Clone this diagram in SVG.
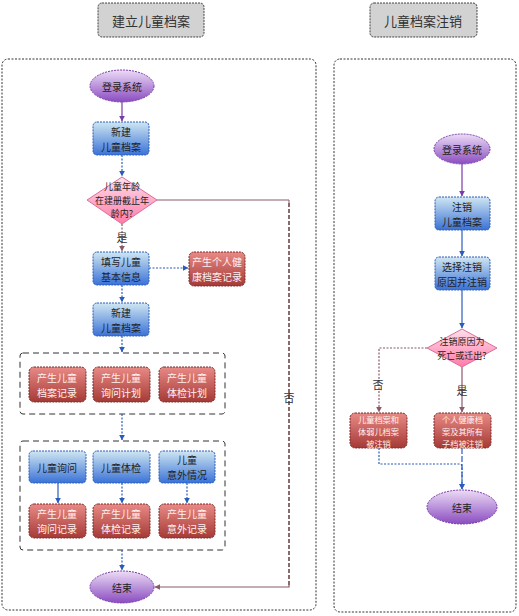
<svg xmlns="http://www.w3.org/2000/svg" width="519" height="616" viewBox="0 0 519 616">
<defs>
<linearGradient id="gP" x1="0" y1="0" x2="0" y2="1"><stop offset="0" stop-color="#ecdcf6"/><stop offset="1" stop-color="#8a4cc0"/></linearGradient>
<linearGradient id="gB" x1="0" y1="0" x2="0" y2="1"><stop offset="0" stop-color="#cfe6f2"/><stop offset="1" stop-color="#3a72d6"/></linearGradient>
<linearGradient id="gD" x1="0" y1="0" x2="0" y2="1"><stop offset="0" stop-color="#ffe0ec"/><stop offset="1" stop-color="#ff7aa8"/></linearGradient>
<linearGradient id="gR" x1="0" y1="0" x2="0" y2="1"><stop offset="0" stop-color="#e88a86"/><stop offset="1" stop-color="#a53a36"/></linearGradient>
<marker id="aB" viewBox="0 0 10 10" refX="9" refY="5" markerWidth="5" markerHeight="5" orient="auto"><path d="M0,0L10,5L0,10z" fill="#2a5cbc"/></marker>
<marker id="aP" viewBox="0 0 10 10" refX="9" refY="5" markerWidth="5" markerHeight="5" orient="auto"><path d="M0,0L10,5L0,10z" fill="#7a3aa8"/></marker>
<marker id="aM" viewBox="0 0 10 10" refX="9" refY="5" markerWidth="5" markerHeight="5" orient="auto"><path d="M0,0L10,5L0,10z" fill="#8a5a6a"/></marker>
</defs>
<style>
text{font-family:"Noto Sans CJK SC","Liberation Sans",sans-serif;font-size:10px;text-anchor:middle;dominant-baseline:central;stroke:none}
.hdr rect{fill:#d2d2d2;stroke:#444;stroke-width:1;stroke-dasharray:2,1}
.hdr text{font-size:13px;fill:#333}
.panel{fill:#fff;stroke:#333;stroke-width:1;stroke-dasharray:2,1.5}
.grp{fill:none;stroke:#333;stroke-width:1;stroke-dasharray:6,4}
.ell{fill:url(#gP);stroke:#7a3aa8;stroke-width:1;stroke-dasharray:2,1}
.box{fill:url(#gB);stroke:#2a5cbc;stroke-width:1;stroke-dasharray:2,1}
.dia{fill:url(#gD);stroke:#d8709a;stroke-width:1}
.red rect{fill:url(#gR);stroke:#7a2a2a;stroke-width:1;stroke-dasharray:2,1}
.red text{fill:#fff0f0}
.sm{font-size:8.2px}
.md{font-size:9px}
.dk{fill:#222}
.cb{fill:none;stroke:#2a5cbc;stroke-width:1.2;marker-end:url(#aB)}
.cbd{fill:none;stroke:#2a5cbc;stroke-width:1.2;stroke-dasharray:2,1.5;marker-end:url(#aB)}
.cp{fill:none;stroke:#7a3aa8;stroke-width:1.2;marker-end:url(#aP)}
.cm{fill:none;stroke:#8a5a6a;stroke-width:1.2;marker-end:url(#aM)}
.lbl{font-size:11px;fill:#333}
</style>
<rect width="519" height="616" fill="#fff"/>
<g id="hdr-left" class="hdr"><rect x="98" y="3" width="106" height="34" rx="4"/><text x="151" y="20">建立儿童档案</text></g>
<g id="hdr-right" class="hdr"><rect x="370" y="3" width="107" height="34" rx="4"/><text x="423" y="20">儿童档案注销</text></g>
<g id="panels">
<rect class="panel" x="2" y="59" width="314" height="551" rx="6"/>
<rect class="panel" x="334" y="59" width="182" height="553" rx="6"/>
<rect class="grp" x="20" y="353" width="205" height="61" rx="3"/>
<rect class="grp" x="20" y="441" width="205" height="109" rx="3"/>
</g>
<g id="connectors">
<path class="cp" d="M122,102V121"/>
<path class="cbd" d="M122,155V176"/>
<path class="cm" d="M122,224V251" stroke-dasharray="2,1.5"/>
<path class="cbd" d="M149,268H188"/>
<path class="cbd" d="M122,285V302"/>
<path class="cbd" d="M122,336V352"/>
<path class="cbd" d="M122,414V440"/>
<path class="cb" d="M58,483V503"/>
<path class="cbd" d="M122,483V503"/>
<path class="cbd" d="M187,483V503"/>
<path class="cbd" d="M122,550V570"/>
<path fill="none" stroke="#8a5a6a" stroke-width="1" d="M157,200H289V203"/>
<path fill="none" stroke="#8a6a6a" stroke-width="2" stroke-dasharray="4,2" d="M289,203V585"/>
<path class="cm" d="M289,585V587H155"/>
<text class="lbl" x="122" y="237">是</text>
<text class="lbl" x="289" y="397">否</text>
<path class="cp" d="M462,164V196"/>
<path class="cb" d="M462,230V256"/>
<path class="cb" d="M462,290V328"/>
<path class="cm" d="M427,348H379V412" stroke-dasharray="2,1.5"/>
<path class="cm" d="M462,367V412"/>
<path class="cbd" d="M379,448V464H460Q462,464 462,468V489"/>
<path class="cb" d="M462,448V489" stroke-dasharray="6,2"/>
<text class="lbl" x="378" y="384">否</text>
<text class="lbl" x="462" y="390">是</text>
</g>
<g id="n-login-l"><ellipse class="ell" cx="122" cy="86" rx="32" ry="16"/><text class="dk" x="122" y="86">登录系统</text></g>
<g id="n-new1"><rect class="box" x="93" y="122" width="56" height="33" rx="4"/><text class="dk" x="121" y="131.2">新建<tspan x="121" dy="14.6">儿童档案</tspan></text></g>
<g id="n-age"><polygon class="dia" points="122,177 157,200 122,224 87,200"/><text class="dk md" x="122" y="186.8">儿童年龄<tspan x="122" dy="13.2">在建册截止年</tspan><tspan x="122" dy="13.2">龄内?</tspan></text></g>
<g id="n-fill"><rect class="box" x="93" y="252" width="56" height="33" rx="4"/><text class="dk" x="121" y="261.2">填写儿童<tspan x="121" dy="14.6">基本信息</tspan></text></g>
<g id="n-health" class="red"><rect x="189" y="252" width="56" height="34" rx="5"/><text x="217" y="261.7">产生个人健<tspan x="217" dy="14.6">康档案记录</tspan></text></g>
<g id="n-new2"><rect class="box" x="93" y="303" width="56" height="33" rx="4"/><text class="dk" x="121" y="312.2">新建<tspan x="121" dy="14.6">儿童档案</tspan></text></g>
<g id="n-r1" class="red"><rect x="29" y="367" width="57" height="35" rx="5"/><text x="57" y="377.2">产生儿童<tspan x="57" dy="14.6">档案记录</tspan></text></g>
<g id="n-r2" class="red"><rect x="93" y="367" width="57" height="35" rx="5"/><text x="121" y="377.2">产生儿童<tspan x="121" dy="14.6">询问计划</tspan></text></g>
<g id="n-r3" class="red"><rect x="159" y="367" width="56" height="35" rx="5"/><text x="187" y="377.2">产生儿童<tspan x="187" dy="14.6">体检计划</tspan></text></g>
<g id="n-b1"><rect class="box" x="29" y="451" width="57" height="32" rx="4"/><text class="dk" x="57" y="467">儿童询问</text></g>
<g id="n-b2"><rect class="box" x="93" y="451" width="57" height="32" rx="4"/><text class="dk" x="121" y="467">儿童体检</text></g>
<g id="n-b3"><rect class="box" x="159" y="451" width="56" height="32" rx="4"/><text class="dk" x="187" y="459.7">儿童<tspan x="187" dy="14.6">意外情况</tspan></text></g>
<g id="n-r4" class="red"><rect x="29" y="504" width="57" height="34" rx="5"/><text x="57" y="513.7">产生儿童<tspan x="57" dy="14.6">询问记录</tspan></text></g>
<g id="n-r5" class="red"><rect x="93" y="504" width="57" height="34" rx="5"/><text x="121" y="513.7">产生儿童<tspan x="121" dy="14.6">体检记录</tspan></text></g>
<g id="n-r6" class="red"><rect x="159" y="504" width="56" height="34" rx="5"/><text x="187" y="513.7">产生儿童<tspan x="187" dy="14.6">意外记录</tspan></text></g>
<g id="n-end-l"><ellipse class="ell" cx="122" cy="587" rx="32" ry="16"/><text class="dk" x="122" y="587">结束</text></g>
<g id="n-login-r"><ellipse class="ell" cx="462" cy="149" rx="28" ry="15"/><text class="dk" x="462" y="149">登录系统</text></g>
<g id="n-cancel"><rect class="box" x="435" y="197" width="55" height="33" rx="4"/><text class="dk" x="462" y="206.2">注销<tspan x="462" dy="14.6">儿童档案</tspan></text></g>
<g id="n-reason"><rect class="box" x="435" y="257" width="55" height="33" rx="4"/><text class="dk" x="462" y="266.2">选择注销<tspan x="462" dy="14.6">原因并注销</tspan></text></g>
<g id="n-death"><polygon class="dia" points="462,329 497,348 462,367 427,348"/><text class="dk md" x="462" y="341.4">注销原因为<tspan x="462" dy="13.2">死亡或迁出?</tspan></text></g>
<g id="n-rl" class="red"><rect x="350" y="413" width="57" height="35" rx="5"/><text class="sm" x="378.5" y="418.5">儿童档案和<tspan x="378.5" dy="12">体弱儿档案</tspan><tspan x="378.5" dy="12">被注销</tspan></text></g>
<g id="n-rr" class="red"><rect x="434" y="413" width="57" height="35" rx="5"/><text class="sm" x="462.5" y="418.5">个人健康档<tspan x="462.5" dy="12">案及其所有</tspan><tspan x="462.5" dy="12">子档被注销</tspan></text></g>
<g id="n-end-r"><ellipse class="ell" cx="462" cy="507" rx="35" ry="17"/><text class="dk" x="462" y="507">结束</text></g>
</svg>
